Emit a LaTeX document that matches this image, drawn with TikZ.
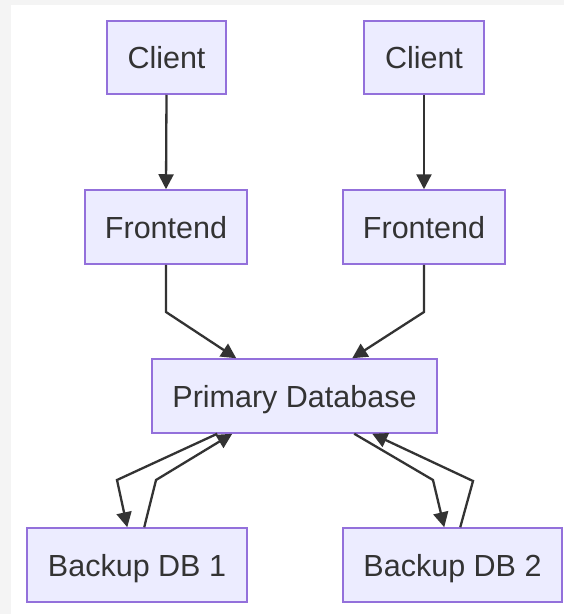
\documentclass[tikz,border=0pt]{standalone}
\usepackage{fontspec}
\setmainfont{Liberation Sans}
\usetikzlibrary{arrows.meta,calc}
\definecolor{nodefill}{HTML}{ECECFF}
\definecolor{nodeline}{HTML}{9370DB}
\definecolor{ink}{HTML}{333333}
\definecolor{bggray}{HTML}{F4F4F4}
\tikzset{
  box/.style={draw=nodeline, fill=nodefill, line width=1.5pt, inner sep=0pt,
    text=ink, font=\fontsize{30.5}{36}\selectfont, minimum height=74pt,
    text height=22pt, text depth=0pt},
  link/.style={draw=ink, line width=2.3pt, -{Triangle[length=15pt,width=15pt]}},
}
\begin{document}
\begin{tikzpicture}[x=1pt,y=-1pt]
\useasboundingbox (0,0) rectangle (564,614);
\fill[bggray] (0,0) rectangle (564,614);
\fill[white] (11,5) rectangle (564,614);

\node[box, minimum width=119pt, minimum height=73pt] (c1) at (166.5,57.5) {Client};
\node[box, minimum width=120pt, minimum height=73pt] (c2) at (424,57.5) {Client};
\node[box, minimum width=162pt] (f1) at (166,227) {Frontend};
\node[box, minimum width=162pt] (f2) at (424,227) {Frontend};
\node[box, minimum width=285pt] (db) at (294.5,396) {Primary Database};
\node[box, minimum width=220pt] (b1) at (137,565) {Backup DB 1};
\node[box, minimum width=219pt] (b2) at (452.5,565) {Backup DB 2};

\draw[link] (c1.south) -- (f1.north);
\draw[link] (c2.south) -- (f2.north);
\draw[link] (f1.south) -- (166,312) -- ($(db.north west)+(85,0)$);
\draw[link] (f2.south) -- (424,312) -- ($(db.north west)+(201,0)$);
\draw[link] ($(db.south west)+(66,0)$) -- (117,480) -- ($(b1.north west)+(101,0)$);
\draw[link] ($(b1.north west)+(118,0)$) -- (156,480) -- ($(db.south west)+(81,0)$);
\draw[link] ($(db.south west)+(203,0)$) -- (433,480) -- ($(b2.north west)+(102,0)$);
\draw[link] ($(b2.north west)+(118,0)$) -- (473,481) -- ($(db.south west)+(221,0)$);
\end{tikzpicture}
\end{document}
